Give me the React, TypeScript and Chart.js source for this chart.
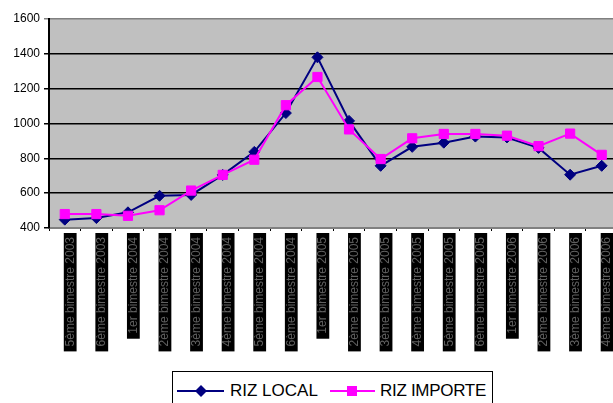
import React, { useEffect, useRef } from 'react';
import { Chart, registerables } from 'chart.js';

Chart.register(...registerables);

const categories = [
  '5ème bimestre 2003', '6ème bimestre 2003',
  '1er bimestre 2004', '2ème bimestre 2004', '3ème bimestre 2004', '4ème bimestre 2004', '5ème bimestre 2004', '6ème bimestre 2004',
  '1er bimestre 2005', '2ème bimestre 2005', '3ème bimestre 2005', '4ème bimestre 2005', '5ème bimestre 2005', '6ème bimestre 2005',
  '1er bimestre 2006', '2ème bimestre 2006', '3ème bimestre 2006', '4ème bimestre 2006',
];

const rizLocal = [448, 457, 490, 585, 590, 705, 837, 1060, 1380, 1015, 757, 866, 890, 925, 920, 860, 706, 757];
const rizImporte = [480, 480, 470, 502, 615, 705, 792, 1105, 1267, 966, 796, 915, 940, 940, 930, 870, 942, 820];

const yMin = 400;
const yMax = 1600;
const yStep = 200;

const FONT = '"Liberation Sans", Arial, sans-serif';

const plotBg = {
  id: 'plotBg',
  beforeDraw(chart: any) {
    const { ctx, chartArea } = chart;
    ctx.save();
    ctx.fillStyle = '#C0C0C0';
    ctx.fillRect(chartArea.left, chartArea.top, chartArea.right - chartArea.left, chartArea.bottom - chartArea.top);
    ctx.restore();
  },
};

export default function App() {
  const ref = useRef<HTMLCanvasElement>(null);

  useEffect(() => {
    if (!ref.current) return;
    const chart = new Chart(ref.current, {
      type: 'line',
      data: {
        labels: categories,
        datasets: [
          {
            label: 'RIZ LOCAL',
            data: rizLocal,
            borderColor: '#000080',
            backgroundColor: '#000080',
            pointBackgroundColor: '#000080',
            pointBorderColor: '#000080',
            pointStyle: 'rectRot',
            pointRadius: 5.5,
            pointBorderWidth: 1,
            borderWidth: 2,
            tension: 0,
            order: 1,
          },
          {
            label: 'RIZ IMPORTE',
            data: rizImporte,
            borderColor: '#FF00FF',
            backgroundColor: '#FF00FF',
            pointBackgroundColor: '#FF00FF',
            pointBorderColor: '#FF00FF',
            pointStyle: 'rect',
            pointRadius: 6.5,
            pointBorderWidth: 1,
            borderWidth: 2,
            tension: 0,
            order: 0,
          },
        ],
      },
      options: {
        animation: false,
        responsive: false,
        layout: { padding: { top: 19, left: 0, right: 5, bottom: 0 } },
        plugins: {
          legend: { display: false },
          tooltip: { enabled: false },
        },
        scales: {
          x: {
            offset: true,
            afterFit: (scale: any) => { scale.height = 175; },
            grid: {
              display: true,
              drawOnChartArea: false,
              drawTicks: true,
              tickLength: 3,
              color: '#000',
              lineWidth: 1,
              offset: true,
            },
            border: { display: true, color: '#808080', width: 2 },
            ticks: {
              autoSkip: false,
              maxRotation: 90,
              minRotation: 90,
              padding: 6,
              color: '#606060',
              font: { family: FONT, size: 12, lineHeight: 0.9 },
              showLabelBackdrop: true,
              backdropColor: '#000',
              backdropPadding: { top: 1, bottom: 1, left: 5, right: 4 },
            },
          },
          y: {
            min: yMin,
            max: yMax,
            afterFit: (scale: any) => { scale.width = 49; },
            grid: {
              color: (c: any) => (c.tick && c.tick.value === yMax ? '#808080' : '#000'),
              lineWidth: 1.5,
              tickLength: 5,
              drawTicks: true,
            },
            border: { display: true, color: '#000', width: 2 },
            ticks: {
              stepSize: yStep,
              padding: 4,
              color: '#000',
              font: { family: FONT, size: 12 },
              callback: (v: any) => String(v),
            },
          },
        },
      },
      plugins: [plotBg],
    });
    return () => chart.destroy();
  }, []);

  return (
    <div style={{ position: 'fixed', left: 0, top: 0, width: 613, height: 403, overflow: 'hidden', background: '#fff' }}>
      <canvas ref={ref} width={625} height={403} style={{ display: 'block' }} />
      <div
        style={{
          position: 'absolute', left: 172, top: 371, width: 321, height: 40,
          border: '1px solid #000', boxSizing: 'border-box', background: '#fff',
          fontFamily: FONT, fontSize: 17, color: '#000',
        }}
      >
        <div style={{ position: 'absolute', left: 4, top: 9, display: 'flex', alignItems: 'center', whiteSpace: 'nowrap' }}>
          <svg width={48} height={14} style={{ display: 'block' }}>
            <line x1={0} y1={7} x2={47} y2={7} stroke="#000080" strokeWidth={2} />
            <polygon points="24,1 30,7 24,13 18,7" fill="#000080" />
          </svg>
          <span style={{ marginLeft: 5 }}>RIZ LOCAL</span>
        </div>
        <div style={{ position: 'absolute', left: 157, top: 9, display: 'flex', alignItems: 'center', whiteSpace: 'nowrap' }}>
          <svg width={46} height={14} style={{ display: 'block' }}>
            <line x1={0} y1={7} x2={45} y2={7} stroke="#FF00FF" strokeWidth={2} />
            <rect x={17} y={2} width={10} height={10} fill="#FF00FF" />
          </svg>
          <span style={{ marginLeft: 4, letterSpacing: -0.3 }}>RIZ IMPORTE</span>
        </div>
      </div>
    </div>
  );
}
